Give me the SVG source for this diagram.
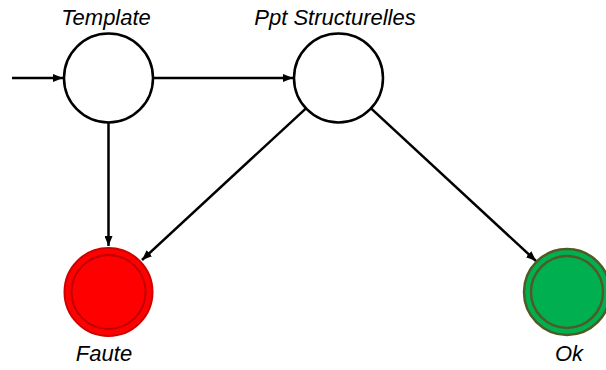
<svg xmlns="http://www.w3.org/2000/svg" width="606" height="370" viewBox="0 0 606 370">
<defs>
<marker id="arr" markerWidth="10" markerHeight="8" refX="10" refY="4" orient="auto" markerUnits="userSpaceOnUse">
<path d="M0,0 L10,4 L0,8 Z" fill="#000"/>
</marker>
<style>
.lbl{font-family:"Liberation Sans",Arial,sans-serif;font-style:italic;font-size:22px;fill:#000;text-anchor:middle}
.st{fill:#fff;stroke:#000;stroke-width:2.5}
.conn line{stroke:#000;stroke-width:2.5;marker-end:url(#arr)}
</style>
</defs>
<rect width="606" height="370" fill="#fff"/>
<g class="conn" id="connectors">
<line x1="12" y1="78" x2="63" y2="78"/>
<line x1="153" y1="78" x2="293" y2="78"/>
<line x1="108.5" y1="122.5" x2="108.5" y2="246"/>
<line x1="306" y1="108.3" x2="142" y2="260"/>
<line x1="371" y1="108.3" x2="536" y2="261"/>
</g>
<g id="template">
<circle class="st" cx="108.5" cy="78" r="44.5"/>
<text class="lbl" x="106" y="25">Template</text>
</g>
<g id="ppt">
<circle class="st" cx="338.5" cy="78" r="44.5"/>
<text class="lbl" x="335" y="25">Ppt Structurelles</text>
</g>
<g id="faute">
<circle cx="108.5" cy="292" r="44" fill="#FF0000" stroke="#D00000" stroke-width="2"/>
<circle cx="108.5" cy="292" r="37" fill="none" stroke="#C00000" stroke-width="2"/>
<text class="lbl" x="104" y="361">Faute</text>
</g>
<g id="ok">
<circle cx="567" cy="292" r="43" fill="#00B050" stroke="#4E5B25" stroke-width="2.5"/>
<circle cx="567" cy="292" r="36" fill="none" stroke="#4E5B25" stroke-width="2.5"/>
<text class="lbl" x="569" y="361">Ok</text>
</g>
</svg>
